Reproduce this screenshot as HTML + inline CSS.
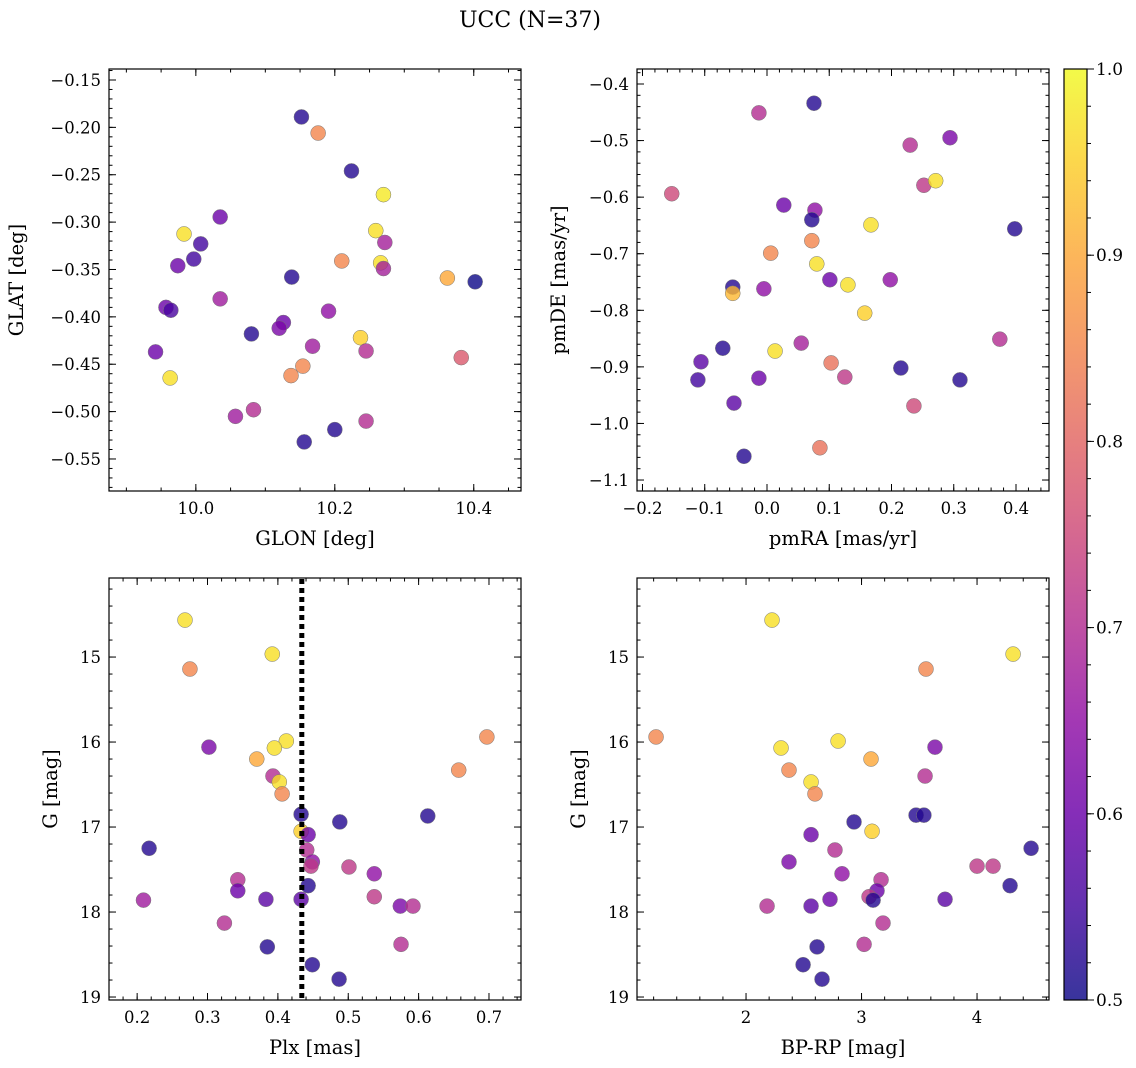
<!DOCTYPE html>
<html><head><meta charset="utf-8">
<style>
html,body{margin:0;padding:0;background:#fff;}
svg{display:block;font-family:"DejaVu Serif","Liberation Serif",serif;}
</style></head>
<body>
<svg id="fig" width="1136" height="1068" viewBox="0 0 1136 1068" xmlns="http://www.w3.org/2000/svg">
<text x="530" y="27" font-size="22" text-anchor="middle">UCC (N=37)</text>
<defs>
<linearGradient id="plasma" x1="0" y1="1" x2="0" y2="0">
<stop offset="0" stop-color="#0d0887"/><stop offset="0.1" stop-color="#41049d"/><stop offset="0.2" stop-color="#6a00a8"/><stop offset="0.3" stop-color="#8f0da4"/><stop offset="0.4" stop-color="#b12a90"/><stop offset="0.5" stop-color="#cc4778"/><stop offset="0.6" stop-color="#e16462"/><stop offset="0.7" stop-color="#f2844b"/><stop offset="0.8" stop-color="#fca636"/><stop offset="0.9" stop-color="#fcce25"/><stop offset="1" stop-color="#f0f921"/>
</linearGradient>
</defs>
</svg>
<script>
// Panel 1: GLON vs GLAT
const glon1=[10.152,10.176,10.224,10.27,10.035,9.983,10.007,10.259,10.272,9.974,9.997,10.210,10.266,10.270,10.138,10.362,10.402,10.035,9.957,9.964,10.191,10.126,10.12,10.08,10.237,10.168,10.245,9.942,10.382,10.154,10.137,9.963,10.083,10.057,10.245,10.2,10.156];
const glat1=[-0.189,-0.206,-0.246,-0.271,-0.2946,-0.3125,-0.323,-0.309,-0.3215,-0.346,-0.339,-0.341,-0.343,-0.349,-0.358,-0.359,-0.363,-0.381,-0.390,-0.393,-0.394,-0.406,-0.412,-0.418,-0.422,-0.431,-0.436,-0.437,-0.443,-0.452,-0.462,-0.4645,-0.498,-0.505,-0.51,-0.519,-0.532];
const col1=[0.52,0.85,0.52,0.98,0.6,0.97,0.55,0.97,0.68,0.6,0.55,0.85,0.97,0.68,0.52,0.9,0.5,0.67,0.6,0.56,0.65,0.6,0.62,0.52,0.95,0.67,0.7,0.6,0.78,0.85,0.85,0.97,0.7,0.67,0.7,0.52,0.52];
// Panel 2: pmRA vs pmDE
const pmra2=[0.0755,-0.013,0.294,0.230,0.252,0.271,-0.153,0.027,0.077,0.072,0.167,0.398,0.072,0.006,0.080,0.198,0.101,0.130,-0.055,-0.005,-0.055,0.157,0.374,0.055,-0.071,0.013,-0.106,0.103,0.215,0.125,-0.013,-0.111,0.310,0.236,-0.053,0.085,-0.037];
const pmde2=[-0.434,-0.451,-0.495,-0.508,-0.579,-0.571,-0.594,-0.614,-0.623,-0.640,-0.649,-0.656,-0.677,-0.699,-0.718,-0.746,-0.746,-0.755,-0.759,-0.762,-0.770,-0.805,-0.851,-0.858,-0.867,-0.872,-0.891,-0.893,-0.902,-0.918,-0.920,-0.923,-0.923,-0.969,-0.964,-1.043,-1.058];
const col2=[0.52,0.7,0.62,0.7,0.72,0.97,0.75,0.6,0.65,0.52,0.97,0.52,0.85,0.85,0.97,0.65,0.6,0.97,0.52,0.65,0.92,0.95,0.7,0.68,0.52,0.97,0.58,0.82,0.52,0.72,0.6,0.55,0.52,0.75,0.58,0.82,0.52];
// Panel 3: Plx vs G
const plx3=[0.268,0.275,0.392,0.697,0.412,0.395,0.302,0.370,0.657,0.393,0.402,0.406,0.613,0.433,0.488,0.433,0.443,0.217,0.441,0.449,0.447,0.501,0.537,0.343,0.443,0.343,0.537,0.383,0.209,0.433,0.574,0.592,0.324,0.575,0.385,0.449,0.487];
const g3=[14.565,15.141,14.965,15.94,15.988,16.07,16.06,16.2,16.33,16.4,16.47,16.61,16.87,16.85,16.94,17.05,17.09,17.25,17.27,17.41,17.46,17.47,17.55,17.62,17.69,17.75,17.82,17.85,17.86,17.85,17.93,17.93,18.13,18.38,18.41,18.62,18.79];
const col3=[0.97,0.85,0.97,0.85,0.97,0.97,0.62,0.9,0.85,0.7,0.97,0.85,0.52,0.52,0.52,0.95,0.6,0.52,0.7,0.65,0.72,0.72,0.65,0.7,0.52,0.6,0.72,0.58,0.67,0.58,0.62,0.7,0.7,0.7,0.52,0.52,0.52];
const plxLine=0.434;
// Panel 4: BP-RP vs G
const bprp4=[2.225,4.312,3.558,1.221,2.797,2.303,3.636,3.082,2.372,3.55,2.563,2.597,3.472,3.54,2.935,3.091,2.563,4.468,2.77,2.372,4.0,4.139,2.831,3.169,4.286,3.134,3.065,2.727,3.723,3.1,2.563,2.182,3.186,3.022,2.615,2.494,2.658];
const g4=[14.565,14.965,15.141,15.94,15.988,16.07,16.06,16.2,16.33,16.4,16.47,16.61,16.86,16.86,16.94,17.05,17.09,17.25,17.27,17.41,17.46,17.46,17.55,17.62,17.69,17.75,17.82,17.85,17.85,17.86,17.93,17.93,18.13,18.38,18.41,18.62,18.79];
const col4=[0.97,0.97,0.85,0.85,0.97,0.97,0.62,0.9,0.85,0.7,0.97,0.85,0.52,0.52,0.52,0.95,0.6,0.52,0.7,0.62,0.72,0.72,0.65,0.7,0.52,0.6,0.72,0.6,0.58,0.52,0.58,0.7,0.7,0.7,0.52,0.52,0.52];
// Tick labels
const xt1=[10.0,10.2,10.4], yt1=[-0.15,-0.2,-0.25,-0.3,-0.35,-0.4,-0.45,-0.5,-0.55];
const xt2=[-0.2,-0.1,0.0,0.1,0.2,0.3,0.4], yt2=[-0.4,-0.5,-0.6,-0.7,-0.8,-0.9,-1.0,-1.1];
const xt3=[0.2,0.3,0.4,0.5,0.6,0.7], yt3=[15,16,17,18,19];
const xt4=[2,3,4], yt4=[15,16,17,18,19];
const cbt=[0.5,0.6,0.7,0.8,0.9,1.0];

const NS='http://www.w3.org/2000/svg';
const svg=document.getElementById('fig');
const stops=[[0,13,8,135],[0.1,65,4,157],[0.2,106,0,168],[0.3,143,13,164],[0.4,177,42,144],[0.5,204,71,120],[0.6,225,100,98],[0.7,242,132,75],[0.8,252,166,54],[0.9,252,206,37],[1,240,249,33]];
function cmap(v){let t=(v-0.5)/0.5;t=Math.max(0,Math.min(1,t));for(let i=1;i<stops.length;i++){if(t<=stops[i][0]){const a=stops[i-1],b=stops[i],f=(t-a[0])/(b[0]-a[0]);return 'rgb('+[1,2,3].map(k=>Math.round(a[k]+f*(b[k]-a[k]))).join(',')+')';}}return 'rgb(240,249,33)';}
function mk(tag,attrs,parent){const e=document.createElementNS(NS,tag);for(const k in attrs)e.setAttribute(k,attrs[k]);(parent||svg).appendChild(e);return e;}
function fmt(v,d){let s=v.toFixed(d);if(v<0)s='\u2212'+s.slice(1);return s;}
const ylabOff={'panel-glon-glat':86,'panel-pmra-pmde':72,'panel-plx-g':52,'panel-bprp-g':52};

function panel(name,box,xr,yr,xs,ys,cs,xt,xd,yt,yd,xmin,ymin,xlab,ylab,invY){
  const [L,T,R,B]=box;
  const g=mk('g',{});
  
  
  const X=v=>L+(v-xr[0])/(xr[1]-xr[0])*(R-L);
  const Y=invY? (v=>T+(v-yr[0])/(yr[1]-yr[0])*(B-T)) : (v=>B-(v-yr[0])/(yr[1]-yr[0])*(B-T));
  const pts=mk('g',{},g);
  
  
  for(let i=0;i<xs.length;i++){
    const c=mk('circle',{cx:X(xs[i]),cy:Y(ys[i]),r:7.5,fill:cmap(cs[i]),'fill-opacity':0.8,stroke:'#777','stroke-width':0.5},pts);
    
    
  }
  const ax=mk('g',{stroke:'#000','stroke-width':1},g);
  
  
  for(let v=Math.ceil(xr[0]/xmin-1e-6)*xmin; v<=xr[1]+1e-9; v+=xmin){const x=X(v);mk('line',{x1:x,x2:x,y1:B,y2:B-3.5},ax);mk('line',{x1:x,x2:x,y1:T,y2:T+3.5},ax);}
  const y0=Math.min(yr[0],yr[1]),y1=Math.max(yr[0],yr[1]);
  for(let v=Math.ceil(y0/ymin-1e-6)*ymin; v<=y1+1e-9; v+=ymin){const y=Y(v);mk('line',{y1:y,y2:y,x1:L,x2:L+3.5},ax);mk('line',{y1:y,y2:y,x1:R,x2:R-3.5},ax);}
  xt.forEach(v=>{const x=X(v);mk('line',{x1:x,x2:x,y1:B,y2:B-7},ax);mk('line',{x1:x,x2:x,y1:T,y2:T+7},ax);
    const t=mk('text',{x:x,y:B+23,'font-size':16.5,'text-anchor':'middle',stroke:'none',fill:'#000'},g);t.textContent=fmt(v,xd);
    });
  yt.forEach(v=>{const y=Y(v);mk('line',{y1:y,y2:y,x1:L,x2:L+7},ax);mk('line',{y1:y,y2:y,x1:R,x2:R-7},ax);
    const t=mk('text',{x:L-8,y:y+6,'font-size':16.5,'text-anchor':'end',stroke:'none',fill:'#000'},g);t.textContent=fmt(v,yd);
    });
  mk('rect',{x:L,y:T,width:R-L,height:B-T,fill:'none',stroke:'#000','stroke-width':1.2},ax);
  const xl=mk('text',{x:(L+R)/2,y:B+54,'font-size':19.5,'text-anchor':'middle'},g);xl.textContent=xlab;
  
  const yx=L-ylabOff[name];
  const yl=mk('text',{x:yx,y:(T+B)/2,'font-size':19.5,'text-anchor':'middle',transform:'rotate(-90 '+yx+' '+(T+B)/2+')'},g);yl.textContent=ylab;
  
  return {X,Y,g};
}
panel('panel-glon-glat',[109,69,521,491],[9.875,10.468],[-0.5838,-0.1384],glon1,glat1,col1,xt1,1,yt1,2,0.05,0.01,'GLON [deg]','GLAT [deg]',false);
panel('panel-pmra-pmde',[637,69,1049,491],[-0.2088,0.453],[-1.1194,-0.3735],pmra2,pmde2,col2,xt2,1,yt2,1,0.02,0.02,'pmRA [mas/yr]','pmDE [mas/yr]',false);
const p3=panel('panel-plx-g',[109,578,521,1000],[0.160,0.7455],[14.07,19.035],plx3,g3,col3,xt3,1,yt3,0,0.02,0.2,'Plx [mas]','G [mag]',true);
const vl=mk('line',{x1:p3.X(plxLine),x2:p3.X(plxLine),y1:579,y2:999,stroke:'#000','stroke-width':5,'stroke-dasharray':'5 4'},p3.g);


panel('panel-bprp-g',[637,578,1049,1000],[1.056,4.623],[14.07,19.035],bprp4,g4,col4,xt4,0,yt4,0,0.2,0.2,'BP-RP [mag]','G [mag]',true);

const cb=mk('g',{});


mk('rect',{x:1064,y:69,width:23,height:931,fill:'url(#plasma)','fill-opacity':0.82},cb);
mk('rect',{x:1064,y:69,width:23,height:931,fill:'none',stroke:'#000','stroke-width':1.2},cb);
const CY=v=>1000-(v-0.5)/0.5*931;
for(let v=0.5;v<=1.0001;v+=0.02){mk('line',{x1:1087,x2:1091,y1:CY(v),y2:CY(v),stroke:'#000'},cb);}
cbt.forEach(v=>{mk('line',{x1:1087,x2:1094,y1:CY(v),y2:CY(v),stroke:'#000'},cb);
  const t=mk('text',{x:1096,y:CY(v)+6,'font-size':17},cb);t.textContent=v.toFixed(1);
  });
</script>
</body></html>
